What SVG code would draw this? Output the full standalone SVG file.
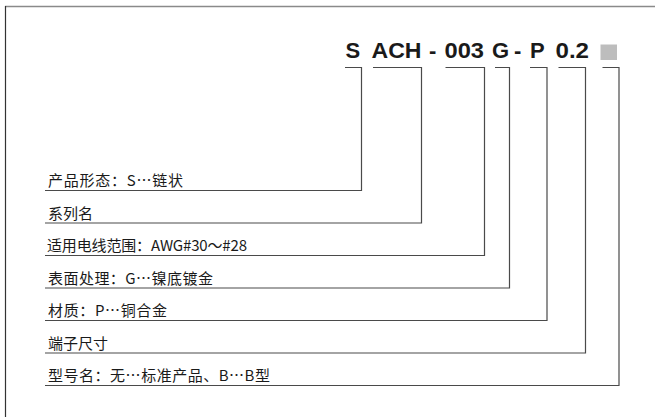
<svg xmlns="http://www.w3.org/2000/svg" width="655" height="417" viewBox="0 0 655 417">
<style>
.code{font-family:"Liberation Sans",Arial,sans-serif;font-weight:bold;font-size:22px;fill:#1a1a1a}
.lbl{font-family:"Noto Sans CJK SC","Noto Sans CJK JP",sans-serif;font-size:15px;fill:#1a1a1a}
.el{font-family:"Noto Sans CJK JP","Noto Sans CJK SC",sans-serif}
.conn{fill:none;stroke:#4a4a4a;stroke-width:1.2}
</style>
<rect width="655" height="417" fill="#fff"/>
<g id="frame">
<line x1="5" y1="6.5" x2="655" y2="6.5" stroke="#8a8a8a" stroke-width="1.6"/>
<line x1="5.5" y1="6" x2="5.5" y2="417" stroke="#333" stroke-width="1.2"/>
</g>
<g id="code">
<text class="code" x="345.5" y="58">S</text>
<text class="code" x="371.5" y="58" textLength="50" lengthAdjust="spacingAndGlyphs">ACH</text>
<text class="code" x="429" y="58">-</text>
<text class="code" x="444.5" y="58" textLength="39.5" lengthAdjust="spacingAndGlyphs">003</text>
<text class="code" x="492" y="58">G</text>
<text class="code" x="514" y="58">-</text>
<text class="code" x="530" y="58">P</text>
<text class="code" x="555.5" y="58" textLength="33.5" lengthAdjust="spacingAndGlyphs">0.2</text>
<rect x="600.5" y="44.5" width="16.5" height="15.5" fill="#bdbdbd"/>
</g>
<g id="connectors">
<path class="conn" d="M345 67.5H361.5V190.5H45"/>
<path class="conn" d="M373 67.5H421.5V223H45"/>
<path class="conn" d="M445.5 67.5H484.5V255.5H45"/>
<path class="conn" d="M495 67.5H509.5V288H45"/>
<path class="conn" d="M530 67.5H547V320.5H45"/>
<path class="conn" d="M558.5 67.5H585.5V353H45"/>
<path class="conn" d="M602.5 67.5H619V385.5H45"/>
</g>
<g id="label-1"><text class="lbl" xml:lang="zh-CN" x="48" y="186" textLength="135" lengthAdjust="spacing">产品形态：S<tspan class="el">…</tspan>链状</text></g>
<g id="label-2"><text class="lbl" x="48" y="218.5">系列名</text></g>
<g id="label-3"><text class="lbl" x="47" y="251" textLength="200" lengthAdjust="spacing">适用电线范围：AWG#30～#28</text></g>
<g id="label-4"><text class="lbl" xml:lang="zh-CN" x="48" y="283.5" textLength="165" lengthAdjust="spacing">表面处理：G<tspan class="el">…</tspan>镍底镀金</text></g>
<g id="label-5"><text class="lbl" xml:lang="zh-CN" x="48" y="316" textLength="119" lengthAdjust="spacing">材质：P<tspan class="el">…</tspan>铜合金</text></g>
<g id="label-6"><text class="lbl" x="48" y="348.5">端子尺寸</text></g>
<g id="label-7"><text class="lbl" xml:lang="zh-CN" x="48" y="381" textLength="222" lengthAdjust="spacing">型号名：无…标准产品、B<tspan class="el">…</tspan>B型</text></g>
</svg>
